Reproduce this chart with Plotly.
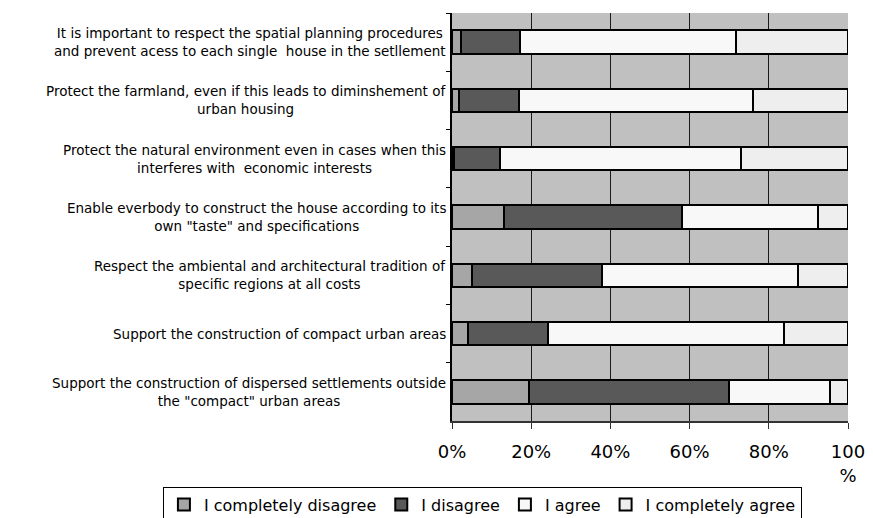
import plotly.graph_objects as go

# Survey statements, listed top to bottom
statements = [
    "It is important to respect the spatial planning procedures<br>and prevent acess to each single  house in the setllement",
    "Protect the farmland, even if this leads to diminshement of<br>urban housing",
    "Protect the natural environment even in cases when this<br>interferes with  economic interests",
    "Enable everbody to construct the house according to its<br>own \"taste\" and specifications",
    "Respect the ambiental and architectural tradition of<br>specific regions at all costs",
    "Support the construction of compact urban areas",
    "Support the construction of dispersed settlements outside<br>the \"compact\" urban areas",
]

# Share of answers per statement (%)
completely_disagree = [2.2, 1.7, 0.6, 13.1, 5.1, 4.0, 19.4]
disagree = [15.0, 15.1, 11.5, 45.0, 32.8, 20.2, 50.5]
agree = [54.5, 59.1, 60.8, 34.3, 49.5, 59.6, 25.5]
completely_agree = [28.3, 24.1, 27.1, 7.6, 12.6, 16.2, 4.6]

series_names = ["I completely disagree", "I disagree", "I agree", "I completely agree"]
series_values = [completely_disagree, disagree, agree, completely_agree]
series_colors = ["#a6a6a6", "#595959", "#f8f8f8", "#eeeeee"]

x_ticks = [0, 20, 40, 60, 80, 100]
x_tick_labels = ["0%", "20%", "40%", "60%", "80%", "100<br>%"]

cat_ids = list(range(len(statements)))

fig = go.Figure()
for name, vals, col in zip(series_names, series_values, series_colors):
    fig.add_trace(go.Bar(
        y=cat_ids, x=vals, name=name, orientation="h",
        marker=dict(color=col, line=dict(color="#000000", width=2)),
        width=0.4,
    ))

# Centred statement labels to the left of the plot
for i, txt in zip(cat_ids, statements):
    fig.add_annotation(
        x=0, xref="paper", xanchor="right", xshift=-4,
        y=i, yref="y", yanchor="middle",
        text=txt, align="center", showarrow=False,
        font=dict(family="DejaVu Sans", size=13.5, color="#000000"),
    )

fig.update_layout(
    width=873, height=518,
    margin=dict(l=452, r=25, t=13, b=97, autoexpand=False),
    barmode="stack",
    paper_bgcolor="#ffffff",
    plot_bgcolor="#c0c0c0",
    showlegend=True,
    legend=dict(
        orientation="h", traceorder="normal",
        x=-0.73, xanchor="left",
        y=-0.161, yanchor="top",
        bordercolor="#000000", borderwidth=1, bgcolor="#ffffff",
        font=dict(family="DejaVu Sans", size=16, color="#000000"),
        itemwidth=30, tracegroupgap=0,
    ),
    xaxis=dict(
        range=[0, 100], tickvals=x_ticks, ticktext=x_tick_labels,
        showgrid=True, gridcolor="#1a1a1a", gridwidth=1,
        showline=True, linecolor="#333333", linewidth=1.5,
        ticks="outside", ticklen=6, tickcolor="#333333",
        ticklabelstandoff=8,
        tickfont=dict(family="DejaVu Sans", size=18, color="#000000"),
        zeroline=False, fixedrange=True,
    ),
    yaxis=dict(
        type="category", categoryorder="array", categoryarray=cat_ids,
        autorange="reversed", tickson="boundaries",
        showticklabels=False, showgrid=False,
        showline=True, linecolor="#000000", linewidth=1.5,
        ticks="outside", ticklen=4, tickcolor="#000000",
        zeroline=False,
    ),
)

fig.write_html("out.html")
